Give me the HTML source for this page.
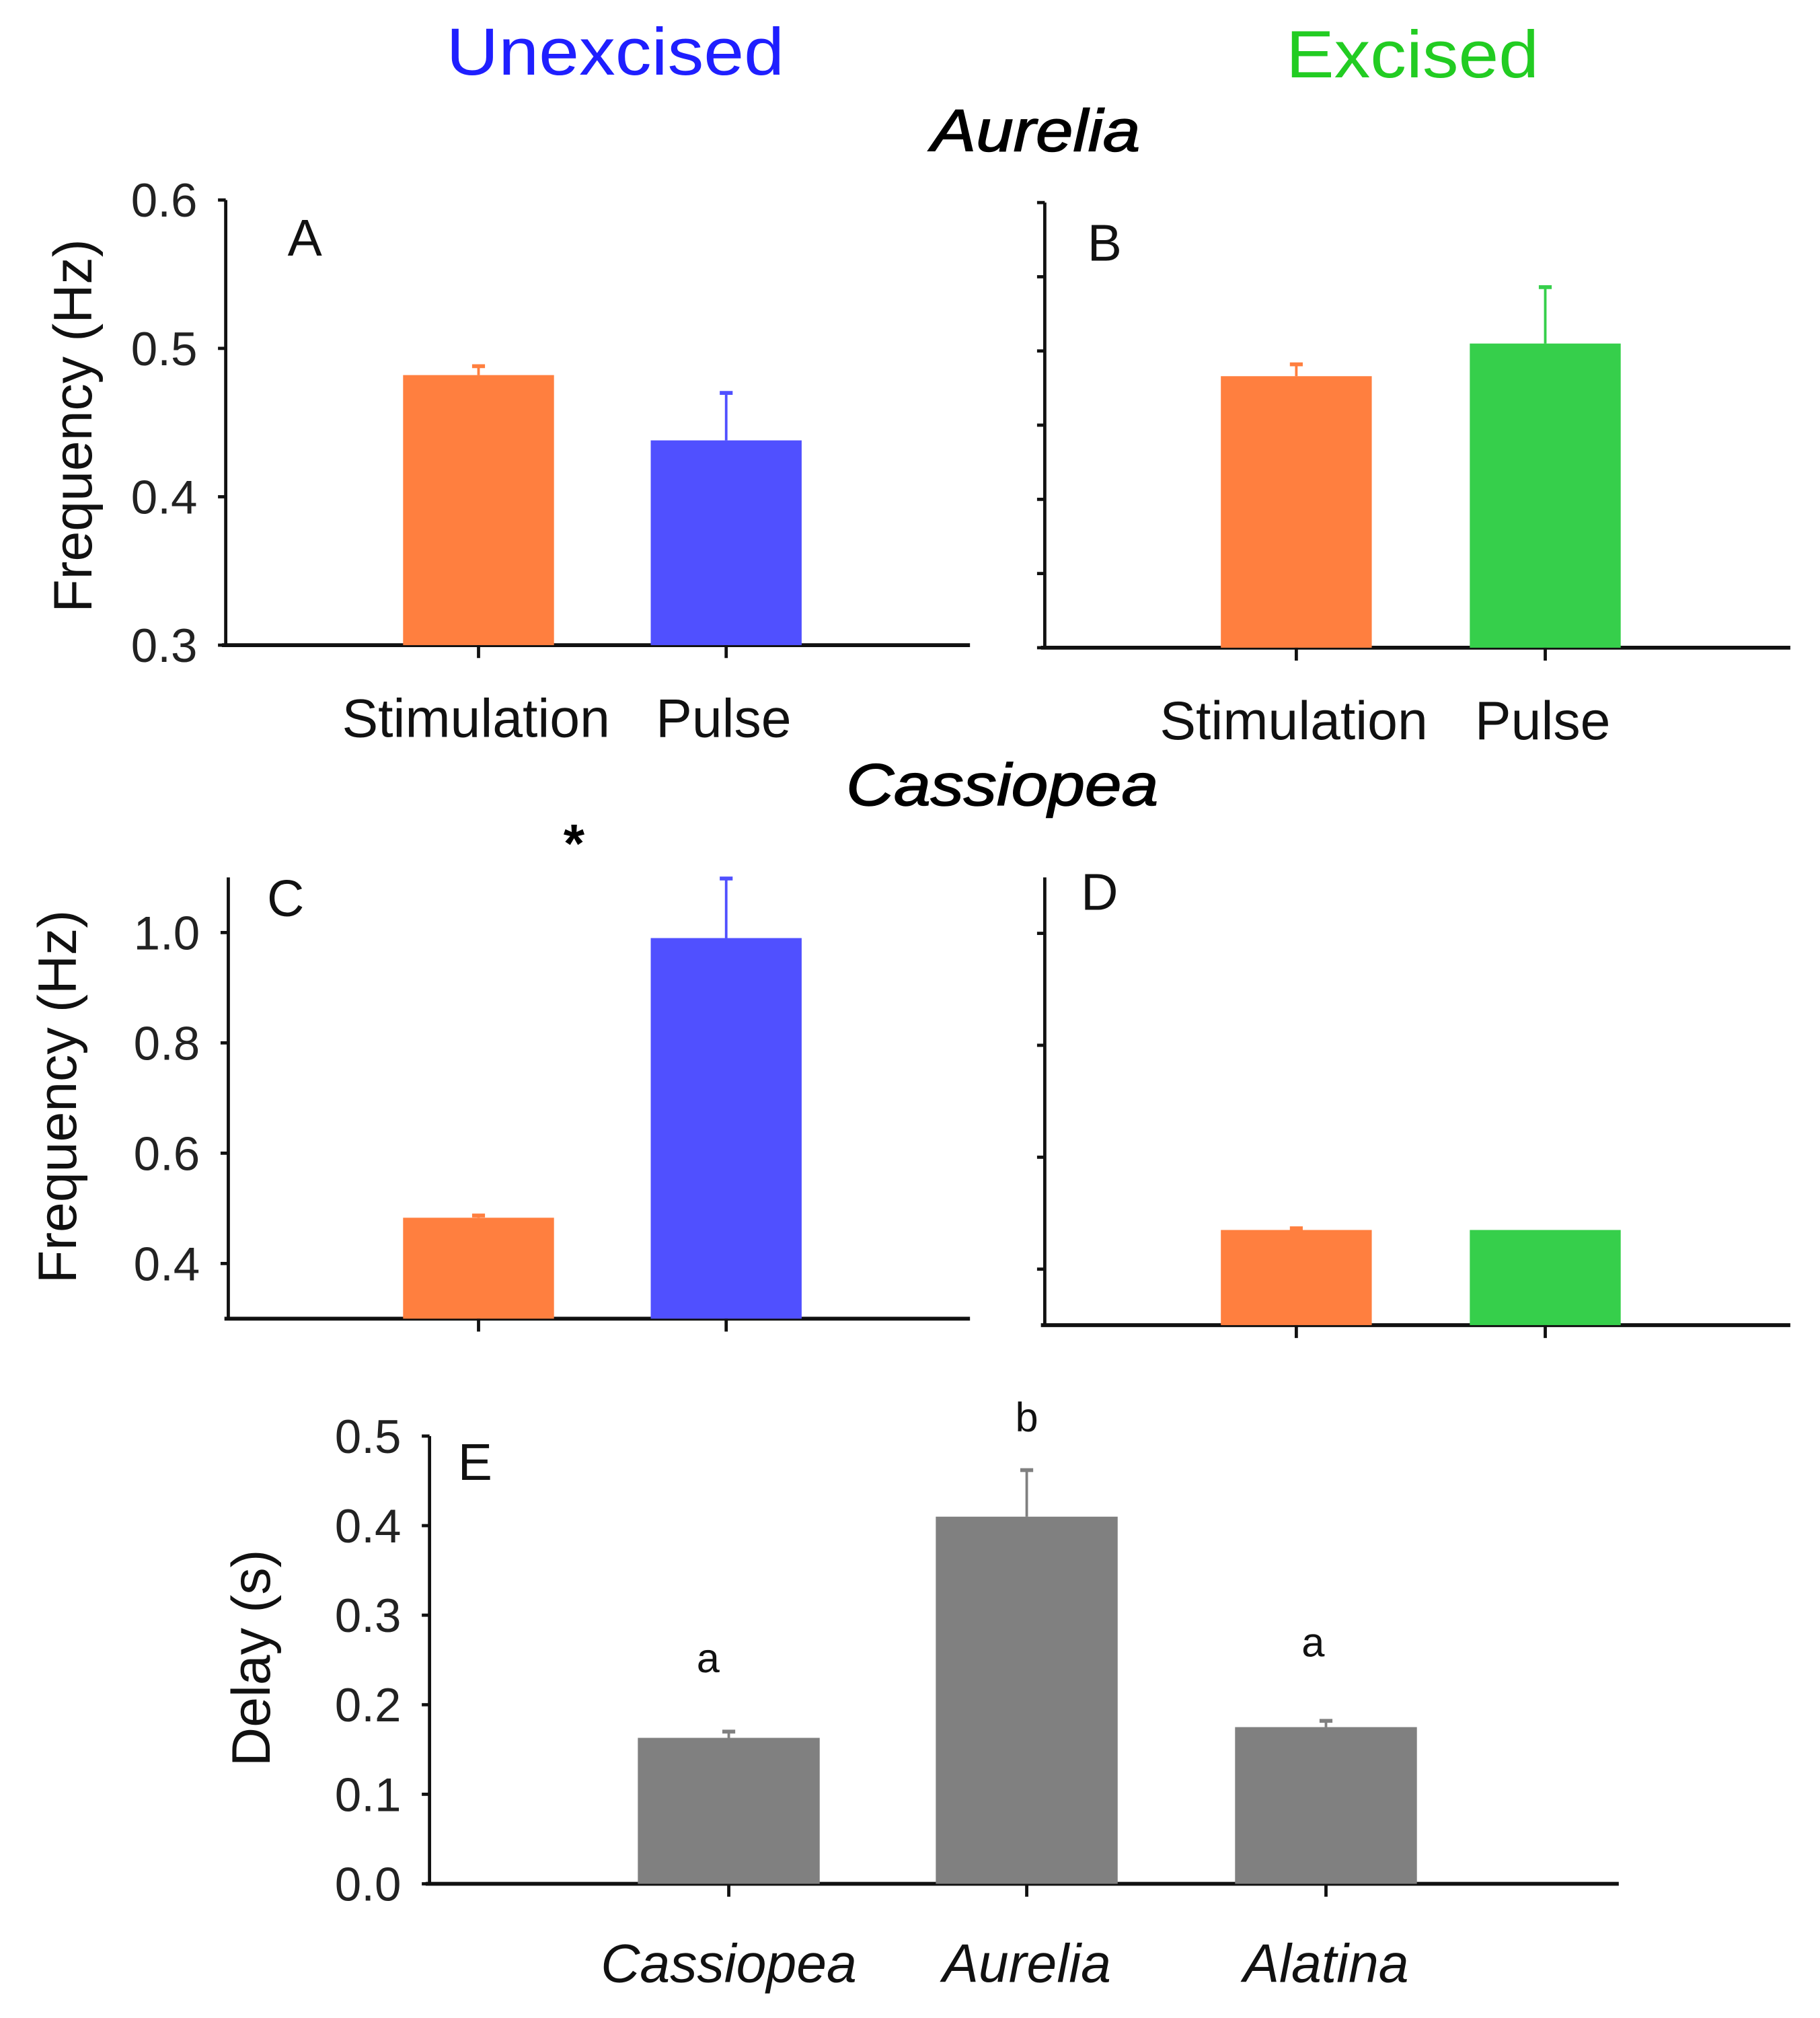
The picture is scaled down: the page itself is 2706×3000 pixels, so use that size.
<!DOCTYPE html>
<html><head><meta charset="utf-8"><style>
html,body{margin:0;padding:0;background:#fff}
svg{display:block}
text{font-family:"Liberation Sans",sans-serif}
</style></head><body>
<svg id="fig" width="2706" height="3000" viewBox="0 0 1411 1564" preserveAspectRatio="none" xmlns="http://www.w3.org/2000/svg">
<rect width="1411" height="1564" fill="#fff"/>
<text x="477" y="58" font-size="52" fill="#1f1fff" text-anchor="middle" textLength="262" lengthAdjust="spacingAndGlyphs">Unexcised</text>
<text x="1095" y="60" font-size="52" fill="#22cc22" text-anchor="middle" textLength="196" lengthAdjust="spacingAndGlyphs">Excised</text>
<text x="803" y="117" font-size="46" font-style="italic" text-anchor="middle" stroke="#000" stroke-width="0.8" textLength="162" lengthAdjust="spacingAndGlyphs">Aurelia</text>
<text x="777" y="624" font-size="46" font-style="italic" text-anchor="middle" stroke="#000" stroke-width="0.8" textLength="242" lengthAdjust="spacingAndGlyphs">Cassiopea</text>
<text x="445" y="668" font-size="42" font-weight="bold" text-anchor="middle">*</text>
<g id="charts"></g>
</svg>
<script>
// Panel A (Aurelia, unexcised)
const catsAB = ["Stimulation","Pulse"];
const valsA = [0.482, 0.438];
const errA = [0.006, 0.032];
// Panel B (Aurelia, excised)
const valsB = [0.483, 0.505];
const errB = [0.008, 0.038];
// Panel C (Cassiopea, unexcised)
const valsC = [0.483, 0.99];
const errC = [0.004, 0.108];
// Panel D (Cassiopea, excised)
const valsD = [0.47, 0.47];
const errD = [0.003, 0.0];
// Panel E (delay)
const catsE = ["Cassiopea","Aurelia","Alatina"];
const valsE = [0.163, 0.41, 0.175];
const errE = [0.007, 0.052, 0.007];
const lettersE = ["a","b","a"];
const ticksAB = ["0.3","0.4","0.5","0.6"];
const ticksC = ["0.4","0.6","0.8","1.0"];
const ticksE = ["0.0","0.1","0.2","0.3","0.4","0.5"];

const NS="http://www.w3.org/2000/svg";
const root=document.getElementById('charts');
function mk(tag,attrs,parent){const e=document.createElementNS(NS,tag);for(const k in attrs)e.setAttribute(k,attrs[k]);(parent||root).appendChild(e);return e;}
function scale(d0,d1,r0,r1){return v=>r0+(v-d0)*(r1-r0)/(d1-d0);}

function panel(o){
  const g=mk('g',{});
  
  
  const y=scale(o.ymin,o.ymax,o.bottom,o.top);
  const ax=mk('line',{x1:o.left,y1:o.top,x2:o.left,y2:o.bottom,stroke:'#111','stroke-width':2.5},g);
  
  
  const xx=mk('line',{x1:o.left-3,y1:o.bottom,x2:o.right,y2:o.bottom,stroke:'#111','stroke-width':3},g);
  
  
  o.ticks.forEach(t=>{
    const v=parseFloat(t),yy=y(v);
    mk('line',{x1:o.left-6,y1:yy,x2:o.left,y2:yy,stroke:'#111','stroke-width':2.5},g);
    if(o.labels){
      const tx=mk('text',{x:o.left-22,y:yy+13,'font-size':37,'text-anchor':'end',fill:'#222'},g);
      tx.textContent=t;
      
      
    }
  });
  (o.minor||[]).forEach(v=>{const yy=y(v);mk('line',{x1:o.left-6,y1:yy,x2:o.left,y2:yy,stroke:'#111','stroke-width':2.5},g);});
  o.vals.forEach((v,i)=>{
    const cx=o.cx[i],w=o.bw;
    const col=o.colors[i];
    const ty=y(v),by=o.bottom;
    const r=mk('rect',{x:cx-w/2,y:ty,width:w,height:by-ty,fill:col},g);
    
    
    if(o.err[i]>0){
      const ey=y(v+o.err[i]);
      mk('line',{x1:cx,y1:ty,x2:cx,y2:ey,stroke:o.ecolors[i],'stroke-width':2},g);
      mk('line',{x1:cx-5,y1:ey,x2:cx+5,y2:ey,stroke:o.ecolors[i],'stroke-width':3},g);
    }
    mk('line',{x1:cx,y1:by,x2:cx,y2:by+10,stroke:'#111','stroke-width':2.5},g);
    if(o.cats){
      const c=mk('text',{x:cx+(o.catDx?o.catDx[i]:0),y:o.catY,'font-size':o.catSize,'text-anchor':'middle','font-style':o.italic?'italic':'normal',fill:'#111'},g);
      c.textContent=o.cats[i];
      
      
    }
    if(o.letters){
      const l=mk('text',{x:cx-(o.letterDx?o.letterDx[i]:0),y:y(v+o.err[i])-o.letterGap[i],'font-size':32,'text-anchor':'middle',fill:'#111'},g);
      l.textContent=o.letters[i];
      
      
    }
  });
  const pl=mk('text',{x:o.left+o.pdx,y:o.top+o.pdy,'font-size':40,fill:'#111'},g);
  pl.textContent=o.id;
  
  
  if(o.ytitle){
    const yt=mk('text',{x:0,y:0,'font-size':o.ytSize,'text-anchor':'middle',fill:'#111',transform:`translate(${o.ytx},${o.yty}) rotate(-90)`},g);
    yt.textContent=o.ytitle;
    
    
  }
}
const OR='#ff7f3f',BL='#5050ff',GR='#36cf4b',GY='#808080';
panel({id:'A',left:175,right:752,top:155,bottom:500,ymin:0.3,ymax:0.6,ticks:ticksAB,labels:true,vals:valsA,err:errA,cx:[371,563],bw:117,colors:[OR,BL],ecolors:[OR,BL],cats:catsAB,catY:571,catSize:42,catDx:[-2,-2],pdx:48,pdy:43,ytitle:'Frequency (Hz)',ytSize:42,ytx:71,yty:330});
panel({id:'B',left:810,right:1388,top:157,bottom:502,ymin:0.3,ymax:0.6,ticks:ticksAB,labels:false,minor:[0.35,0.45,0.55],vals:valsB,err:errB,cx:[1005,1198],bw:117,colors:[OR,GR],ecolors:[OR,GR],cats:catsAB,catY:573,catSize:42,catDx:[-2,-2],pdx:33,pdy:45});
panel({id:'C',left:177,right:752,top:680,bottom:1022,ymin:0.3,ymax:1.1,ticks:ticksC,labels:true,vals:valsC,err:errC,cx:[371,563],bw:117,colors:[OR,BL],ecolors:[OR,BL],pdx:30,pdy:30,ytitle:'Frequency (Hz)',ytSize:42,ytx:59,yty:850});
panel({id:'D',left:810,right:1388,top:680,bottom:1027,ymin:0.3,ymax:1.1,ticks:[],labels:false,minor:[0.4,0.6,0.8,1.0],vals:valsD,err:errD,cx:[1005,1198],bw:117,colors:[OR,GR],ecolors:[OR,GR],pdx:28,pdy:25});
panel({id:'E',left:333,right:1255,top:1113,bottom:1460,ymin:0,ymax:0.5,ticks:ticksE,labels:true,vals:valsE,err:errE,cx:[565,796,1028],bw:141,colors:[GY,GY,GY],ecolors:[GY,GY,GY],cats:catsE,catY:1536,catSize:42,italic:true,letters:lettersE,letterGap:[46,30,50],letterDx:[16,0,10],pdx:22,pdy:34,ytitle:'Delay (s)',ytSize:42,ytx:209,yty:1285});
</script>
</body></html>
